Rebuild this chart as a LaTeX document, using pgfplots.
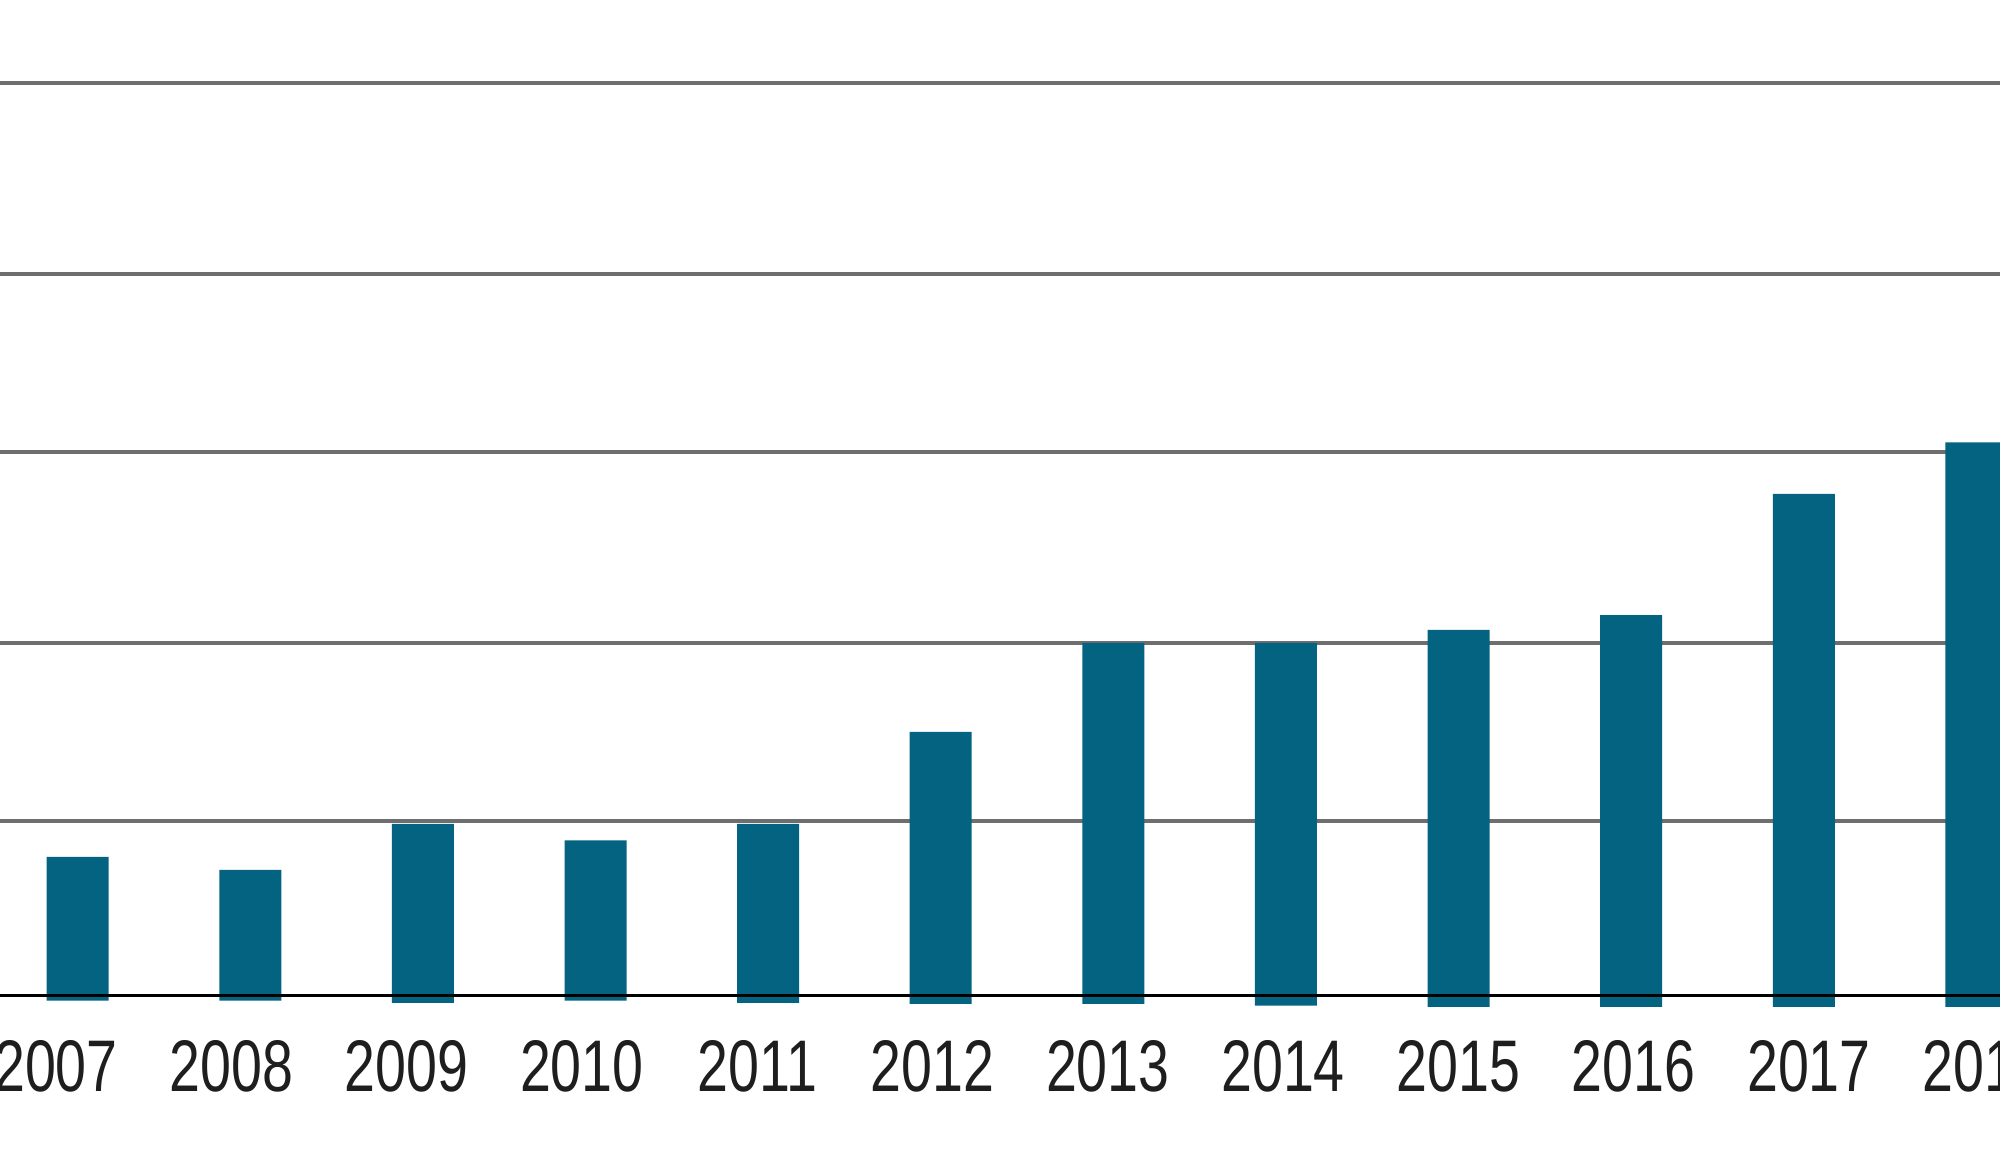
\documentclass[border=0pt]{standalone}
\usepackage{pgfplots}
\pgfplotsset{compat=1.18}
\usepackage{fontspec}
\newfontfamily\labfont{Liberation Sans}[FakeStretch=0.76]
\definecolor{barblue}{RGB}{4,99,128}
\definecolor{gridgray}{RGB}{110,110,110}
\definecolor{labtext}{RGB}{30,30,30}
\begin{document}
\begin{tikzpicture}
\begin{axis}[
  x=1.726cm, y=0.03652cm,
  xmin=-0.4502, xmax=11.137,
  ymin=-26.3, ymax=272.73,
  enlargelimits=false,
  clip=false,
  axis line style={draw=none},
  major tick length=0pt,
  tick style={draw=none},
  ytick={47.9,96.7,149.0,197.7,250.0},
  yticklabels={},
  ymajorgrids,
  grid style={color=gridgray, line width=1pt},
  xtick={-0.126,0.890,1.905,2.921,3.937,4.952,5.968,6.983,7.999,9.015,10.030,11.046},
  xticklabels={2007,2008,2009,2010,2011,2012,2013,2014,2015,2016,2017,2018},
  xticklabel style={anchor=base, inner sep=0pt, text=labtext, font=\labfont\fontsize{20.8}{24}\selectfont},
]
% bar heights
\addplot[ybar, bar width=0.62cm, bar shift=0pt, fill=barblue, draw=none] coordinates {
 (0,38.06) (1,34.50) (2,47.10) (3,42.58) (4,47.10) (5,72.29)
 (6,96.66) (7,96.66) (8,100.2) (9,104.3) (10,137.5) (11,151.6)};
% small extension of bars below the baseline
\addplot[ybar, bar width=0.62cm, bar shift=0pt, fill=barblue, draw=none] coordinates {
 (0,-1.3) (1,-1.3) (2,-1.9) (3,-1.3) (4,-1.9) (5,-2.2)
 (6,-2.2) (7,-2.7) (8,-3.0) (9,-3.0) (10,-3.0) (11,-3.0)};
% baseline
\addplot[black, line width=0.85pt] coordinates {(-0.4502,0) (11.137,0)};
\coordinate (BL) at (axis cs:-0.4502,-46.28);
\coordinate (TR) at (axis cs:11.137,272.73);
\end{axis}
\pgfresetboundingbox
\useasboundingbox (BL) rectangle (TR);
\end{tikzpicture}
\end{document}
